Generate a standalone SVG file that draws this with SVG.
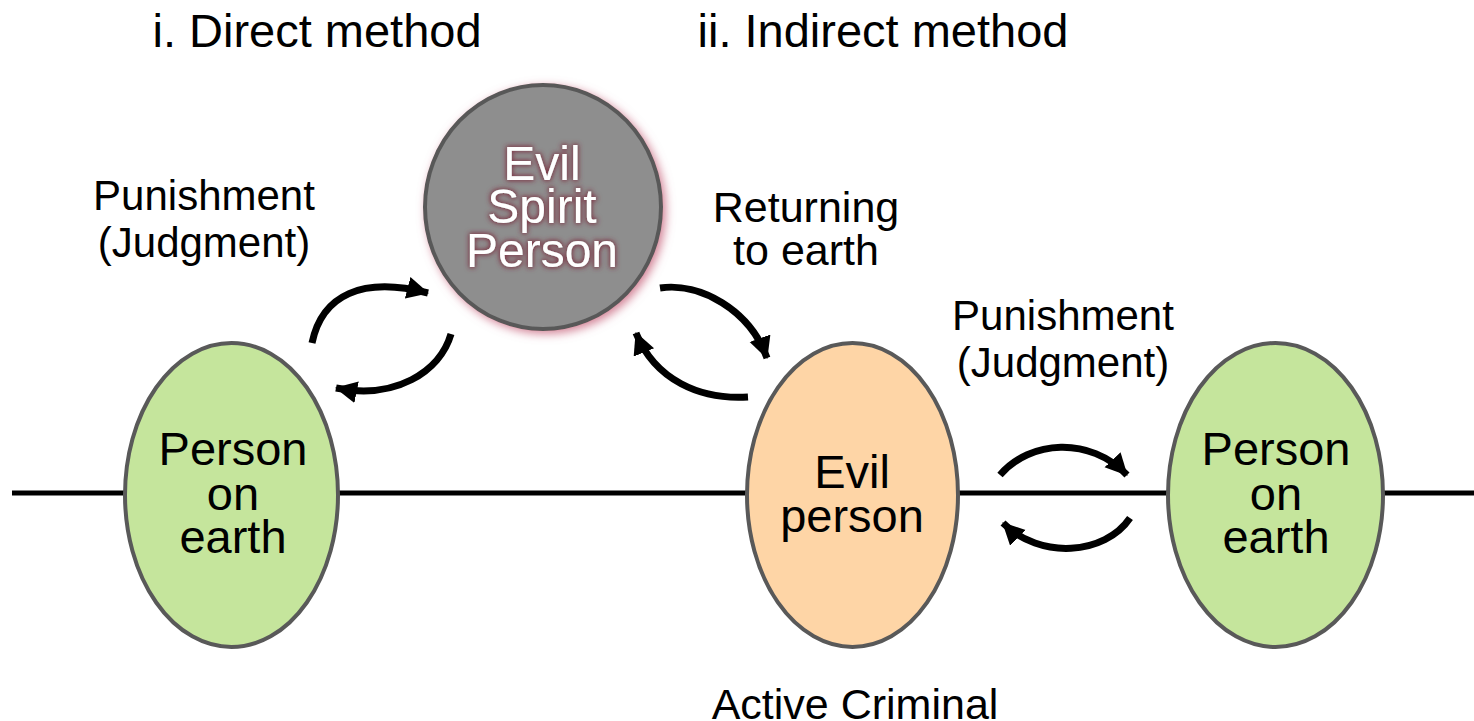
<svg xmlns="http://www.w3.org/2000/svg" width="1474" height="721" viewBox="0 0 1474 721">
<style>
text{font-family:"Liberation Sans",Arial,sans-serif;fill:#000;text-anchor:middle}
.h{font-size:47px}
.t{font-size:42px}
.n{font-size:47px}
.node{stroke:#595959;stroke-width:4}
.arr{fill:none;stroke:#000;stroke-width:7;marker-end:url(#ah)}
.sp{fill:#fff;font-size:48px;filter:url(#tglow)}
</style>
<defs>
<marker id="ah" markerUnits="userSpaceOnUse" markerWidth="26" markerHeight="24" refX="21" refY="11" orient="auto" viewBox="0 0 26 24">
<path d="M0,0 L22,11 L0,22 Z" fill="#000"/>
</marker>
<filter id="glow" x="-20%" y="-20%" width="140%" height="140%">
<feGaussianBlur in="SourceAlpha" stdDeviation="5"/>
<feOffset dx="3" dy="3" result="b"/>
<feFlood flood-color="#c8667e" flood-opacity="0.8"/>
<feComposite in2="b" operator="in"/>
<feMerge><feMergeNode/><feMergeNode in="SourceGraphic"/></feMerge>
</filter>
<filter id="tglow" x="-20%" y="-30%" width="140%" height="160%">
<feMorphology in="SourceAlpha" operator="dilate" radius="1" result="d"/>
<feGaussianBlur in="d" stdDeviation="2.5" result="b"/>
<feFlood flood-color="#7a2a3c" flood-opacity="0.9"/>
<feComposite in2="b" operator="in"/>
<feMerge><feMergeNode/><feMergeNode in="SourceGraphic"/></feMerge>
</filter>
</defs>
<rect width="1474" height="721" fill="#fff"/>
<line x1="12" y1="493" x2="1474" y2="493" stroke="#000" stroke-width="5"/>
<g id="titles">
<text class="h" x="317" y="47">i. Direct method</text>
<text class="h" x="883" y="47">ii. Indirect method</text>
</g>
<g id="labels">
<text class="t" x="204" y="210">Punishment</text>
<text class="t" x="204" y="257">(Judgment)</text>
<text class="t" x="806" y="222" style="font-size:43px">Returning</text>
<text class="t" x="806" y="265" style="font-size:43px">to earth</text>
<text class="t" x="1063" y="330">Punishment</text>
<text class="t" x="1063" y="377">(Judgment)</text>
<text class="t" x="855" y="719" style="font-size:43px">Active Criminal</text>
</g>
<g id="spirit">
<ellipse class="node" cx="543" cy="207" rx="118" ry="122" fill="#8e8e8e" filter="url(#glow)"/>
<text class="sp" x="542" y="180">Evil</text>
<text class="sp" x="542" y="223">Spirit</text>
<text class="sp" x="542" y="267">Person</text>
</g>
<g id="person-left">
<ellipse class="node" cx="231.5" cy="495" rx="106.5" ry="152" fill="#c5e59c"/>
<text class="n" x="233" y="465">Person</text>
<text class="n" x="233" y="510">on</text>
<text class="n" x="233" y="553">earth</text>
</g>
<g id="evil-person">
<ellipse class="node" cx="852.5" cy="495" rx="105.5" ry="152" fill="#fed5a6"/>
<text class="n" x="852" y="488">Evil</text>
<text class="n" x="852" y="532">person</text>
</g>
<g id="person-right">
<ellipse class="node" cx="1275.5" cy="495" rx="107.5" ry="152" fill="#c5e59c"/>
<text class="n" x="1276" y="465">Person</text>
<text class="n" x="1276" y="510">on</text>
<text class="n" x="1276" y="553">earth</text>
</g>
<g id="connectors">
<path class="arr" d="M312,343 C322,295 362,276 428,293"/>
<path class="arr" d="M451,334 C440,372 395,400 336,388"/>
<path class="arr" d="M660,288 C700,282 750,310 767,358"/>
<path class="arr" d="M748,397 C700,400 655,380 636,333"/>
<path class="arr" d="M1000,475 C1030,440 1090,436 1127,475"/>
<path class="arr" d="M1130,518 C1105,555 1040,560 1003,523"/>
</g>
</svg>
